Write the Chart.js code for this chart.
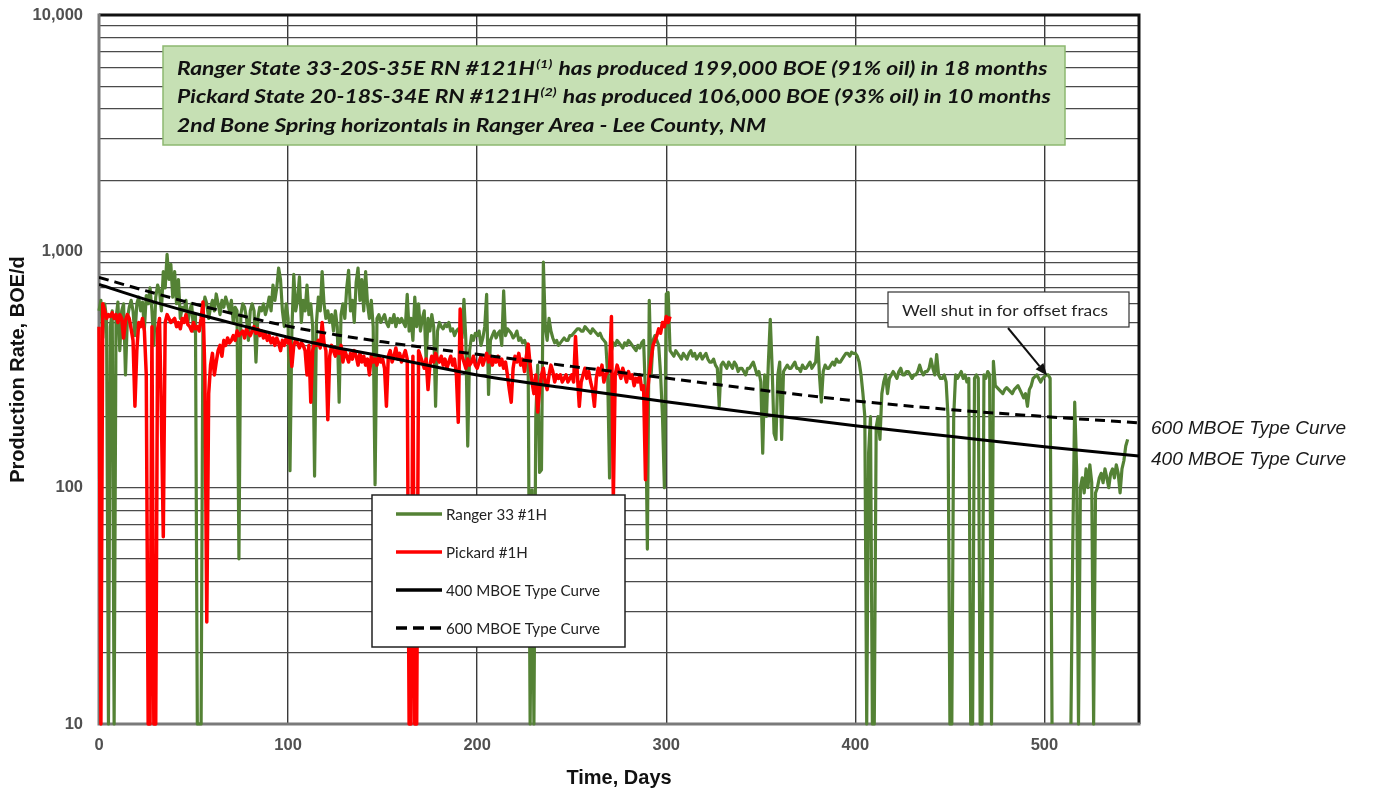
<!DOCTYPE html>
<html>
<head>
<meta charset="utf-8">
<script src="https://cdn.jsdelivr.net/npm/chart.js@4.4.1/dist/chart.umd.min.js"></script>
<style>
  html, body { margin: 0; padding: 0; background: #ffffff; }
  #wrap { width: 1382px; height: 794px; position: relative; }
</style>
</head>
<body>
<div id="wrap"><canvas id="chart" width="1382" height="794"></canvas></div>
<script>
// Daily production, BOE/d; array index = day on production. null = well shut in.
const rangerRate = [
  560,620,430,600,520,10,480,560,10,520,610,380,560,600,300,520,580,620,560,440,
  600,640,560,610,470,650,600,700,560,400,640,720,680,560,820,700,970,760,880,640,
  820,600,760,520,580,560,620,500,560,600,460,540,10,10,10,560,640,600,520,580,
  620,560,660,600,540,620,580,640,600,560,620,500,580,560,50,540,600,580,520,420,
  560,600,560,340,520,580,560,600,540,580,640,560,720,620,700,850,760,560,480,600,
  520,118,460,800,560,620,780,500,620,560,720,540,600,480,112,500,640,560,820,600,
  520,560,500,540,460,560,480,230,540,600,520,700,830,560,620,500,740,850,620,760,
  560,820,600,520,620,480,103,520,540,500,520,540,500,480,520,500,540,480,520,500,
  520,500,480,658,460,520,420,640,480,600,460,520,560,340,520,460,540,480,221,460,
  500,480,470,490,480,500,460,470,440,460,470,450,430,627,420,150,380,440,420,450,
  440,460,400,430,480,658,248,420,440,460,430,450,460,400,680,440,470,460,450,430,
  440,460,420,430,410,420,400,300,10,98,10,200,330,116,119,900,480,420,520,460,
  430,410,420,400,410,420,430,420,420,440,440,450,460,470,470,460,460,480,470,460,
  450,470,460,450,440,450,430,420,410,300,110,380,410,400,420,410,400,390,410,400,
  420,410,400,390,380,400,390,410,420,250,55,620,300,420,440,420,400,300,200,100,
  660,670,380,370,360,380,370,360,350,370,360,350,370,380,360,370,350,360,370,350,
  360,370,350,340,340,350,330,320,221,330,340,330,320,340,330,320,340,330,310,320,
  320,310,300,320,320,330,340,320,300,310,280,140,300,200,340,516,320,170,160,300,
  340,160,310,320,330,320,320,330,340,320,320,310,330,320,320,330,340,320,330,340,
  433,300,230,310,330,320,320,330,340,330,350,340,340,350,360,370,370,360,374,370,
  370,360,340,300,250,200,10,140,200,10,10,180,200,160,250,280,300,250,290,300,
  310,300,290,310,320,300,300,310,310,300,290,300,300,310,330,310,300,310,310,320,
  350,320,300,366,300,290,290,300,280,200,10,10,200,300,290,300,310,290,300,280,
  290,10,10,290,300,290,10,10,300,290,310,300,10,342,270,265,260,255,250,260,
  265,260,255,250,260,265,270,260,250,240,250,221,260,270,290,295,300,290,280,290,
  295,300,300,290,10,null,null,null,null,null,null,null,null,null,10,60,230,120,10,100,
  110,95,120,100,125,105,10,95,100,110,115,105,120,110,100,115,120,110,125,115,
  95,120,130,150,160
];

const pickardRate = [
  480,10,600,560,520,540,530,550,520,540,500,540,520,430,510,540,520,470,420,221,
  380,500,480,520,460,300,10,10,480,10,10,470,520,200,62,500,540,520,500,510,
  520,480,500,470,520,500,540,490,480,460,500,470,480,460,520,610,300,27,250,330,
  370,300,340,380,400,360,420,400,430,410,420,440,420,460,440,450,460,430,470,450,
  440,460,480,450,470,440,460,430,450,420,440,410,430,400,430,410,380,420,400,430,
  410,420,326,400,420,410,390,410,400,380,300,400,230,380,410,400,420,390,500,410,
  380,194,360,400,380,360,390,370,400,340,380,360,340,370,350,380,360,330,370,340,
  360,330,350,300,360,340,350,330,360,340,350,320,221,360,380,340,360,390,350,370,
  340,360,380,350,10,10,360,10,10,380,360,340,320,350,260,330,360,340,370,350,
  340,360,330,350,320,340,360,330,350,300,189,570,360,340,320,350,330,340,360,330,
  320,340,360,330,350,370,340,360,330,350,340,360,330,350,320,340,300,260,230,320,
  360,340,370,330,350,310,360,405,330,280,250,300,209,260,300,320,280,260,300,330,
  310,280,300,290,300,280,290,300,280,290,300,280,436,300,221,280,300,320,290,310,
  280,260,221,290,320,300,330,280,300,310,320,530,89,300,330,310,290,320,300,280,
  310,290,300,270,290,280,300,260,270,108,250,300,350,400,420,440,470,450,500,480,
  530,500,530
];

// Type curves, BOE/d at selected days
const typeCurveDays = [0, 25, 50, 75, 100, 125, 150, 175, 200, 250, 300, 350, 400, 450, 500, 550];
const typeCurve400 = [724, 625, 548, 486, 433, 392, 360, 328, 300, 262, 231, 205, 183, 165, 149, 136];
const typeCurve600 = [776, 680, 600, 535, 482, 444, 414, 389, 367, 326, 291, 259, 233, 214, 200, 188];

// Axis ticks
const xTicks = [0, 100, 200, 300, 400, 500];
const yTicks = [10,20,30,40,50,60,70,80,90,100,200,300,400,500,600,700,800,900,
                1000,2000,3000,4000,5000,6000,7000,8000,9000,10000];
const yLabelled = [10, 100, 1000, 10000];

const seriesNames = ['Ranger 33 #1H', 'Pickard #1H', '400 MBOE Type Curve', '600 MBOE Type Curve'];
const noteLines = [
  ['Ranger State 33-20S-35E RN #121H', '(1)', ' has produced 199,000 BOE (91% oil) in 18 months'],
  ['Pickard State 20-18S-34E RN #121H', '(2)', ' has produced 106,000 BOE (93% oil) in 10 months'],
  ['2nd Bone Spring horizontals in Ranger Area - Lee County, NM', '', '']
];
const calloutText = 'Well shut in for offset fracs';
const shutInDay = 503;

const GREEN = '#548235';
const RED = '#ff0000';

const toXY = (arr) => arr.map((v, i) => ({ x: i, y: v }));
const curveXY = (vals) => typeCurveDays.map((d, i) => ({ x: d, y: vals[i] }));

// Plot frame: grey left/bottom axes, black top/right borders
const framePlugin = {
  id: 'frame',
  beforeDatasetsDraw(chart) {
    const { ctx, chartArea: a } = chart;
    ctx.save();
    ctx.lineWidth = 3;
    ctx.strokeStyle = '#111';
    ctx.beginPath();
    ctx.moveTo(a.left, a.top); ctx.lineTo(a.right, a.top); ctx.lineTo(a.right, a.bottom);
    ctx.stroke();
    ctx.strokeStyle = '#7a7a7a';
    ctx.beginPath();
    ctx.moveTo(a.left, a.top - 1.5); ctx.lineTo(a.left, a.bottom); ctx.lineTo(a.right + 1.5, a.bottom);
    ctx.stroke();
    ctx.restore();
  }
};

function drawArrow(ctx, x1, y1, x2, y2) {
  const ang = Math.atan2(y2 - y1, x2 - x1);
  const len = 12, hw = 5;
  const bx = x2 - len * Math.cos(ang), by = y2 - len * Math.sin(ang);
  ctx.beginPath();
  ctx.moveTo(x1, y1); ctx.lineTo(bx, by);
  ctx.stroke();
  ctx.beginPath();
  ctx.moveTo(x2, y2);
  ctx.lineTo(bx + hw * Math.sin(ang), by - hw * Math.cos(ang));
  ctx.lineTo(bx - hw * Math.sin(ang), by + hw * Math.cos(ang));
  ctx.closePath();
  ctx.fill();
}

const overlayPlugin = {
  id: 'overlays',
  afterDatasetsDraw(chart) {
    const { ctx } = chart;
    const xs = chart.scales.x, ys = chart.scales.y;
    ctx.save();

    // Note box at the top
    ctx.fillStyle = '#c6e0b4';
    ctx.strokeStyle = '#8db870';
    ctx.lineWidth = 1.5;
    ctx.fillRect(163, 46, 902, 99);
    ctx.strokeRect(163, 46, 902, 99);
    const mainFont = 'italic bold 19px Lato, "Open Sans", sans-serif';
    const supFont = 'italic bold 12px Lato, "Open Sans", sans-serif';
    const widthOf = (line) => {
      ctx.font = mainFont;
      let w = ctx.measureText(line[0]).width + ctx.measureText(line[2]).width;
      ctx.font = supFont;
      return w + ctx.measureText(line[1]).width;
    };
    const sx = 868 / widthOf(noteLines[0]);
    ctx.fillStyle = '#111';
    ctx.textBaseline = 'alphabetic';
    ctx.textAlign = 'left';
    noteLines.forEach((line, i) => {
      ctx.save();
      ctx.translate(177, 75 + i * 28.3);
      ctx.scale(sx, 1);
      let x = 0;
      ctx.font = mainFont;
      ctx.fillText(line[0], x, 0);
      x += ctx.measureText(line[0]).width + 1;
      ctx.font = supFont;
      if (line[1]) {
        ctx.fillText(line[1], x, -7);
        x += ctx.measureText(line[1]).width + 1;
      }
      ctx.font = mainFont;
      ctx.fillText(line[2], x, 0);
      ctx.restore();
    });

    // Legend box
    ctx.fillStyle = '#ffffff';
    ctx.strokeStyle = '#222';
    ctx.lineWidth = 1.5;
    ctx.fillRect(372, 495, 253, 152);
    ctx.strokeRect(372, 495, 253, 152);
    const legFont = '15px Lato, "Open Sans", sans-serif';
    ctx.font = legFont;
    const lsx = 154 / ctx.measureText(seriesNames[2]).width;
    const order = [0, 1, 2, 3];
    order.forEach((di, r) => {
      const ds = chart.data.datasets[di];
      const y = 514 + r * 38;
      ctx.save();
      ctx.strokeStyle = ds.borderColor;
      ctx.lineWidth = 3.5;
      ctx.setLineDash(ds.borderDash && ds.borderDash.length ? [11, 6] : []);
      ctx.beginPath();
      ctx.moveTo(396, y); ctx.lineTo(442, y);
      ctx.stroke();
      ctx.restore();
      ctx.save();
      ctx.translate(446, y);
      ctx.scale(lsx, 1);
      ctx.font = legFont;
      ctx.fillStyle = '#222';
      ctx.textBaseline = 'middle';
      ctx.fillText(ds.label, 0, 1);
      ctx.restore();
    });

    // Shut-in callout
    ctx.fillStyle = '#ffffff';
    ctx.strokeStyle = '#333';
    ctx.lineWidth = 1.2;
    ctx.fillRect(888, 292, 241, 35);
    ctx.strokeRect(888, 292, 241, 35);
    const cFont = '16px Lato, "Open Sans", sans-serif';
    ctx.font = cFont;
    const csx = 206 / ctx.measureText(calloutText).width;
    ctx.save();
    ctx.translate(902, 311);
    ctx.scale(csx, 1);
    ctx.fillStyle = '#222';
    ctx.textBaseline = 'middle';
    ctx.fillText(calloutText, 0, 0);
    ctx.restore();
    const tipX = xs.getPixelForValue(shutInDay) - 3;
    const tipY = ys.getPixelForValue(rangerRate[shutInDay]) - 3;
    ctx.strokeStyle = '#111';
    ctx.fillStyle = '#111';
    ctx.lineWidth = 2;
    drawArrow(ctx, 1008, 328, tipX, tipY);

    // Type-curve end labels
    ctx.font = 'italic 19px "Liberation Sans", Arial, sans-serif';
    ctx.fillStyle = '#1a1a1a';
    ctx.textBaseline = 'middle';
    const yEnd600 = ys.getPixelForValue(typeCurve600[typeCurve600.length - 1]);
    const yEnd400 = ys.getPixelForValue(typeCurve400[typeCurve400.length - 1]);
    ctx.fillText(seriesNames[3], 1151, yEnd600 + 6);
    ctx.fillText(seriesNames[2], 1151, yEnd400 + 4);

    ctx.restore();
  }
};

new Chart(document.getElementById('chart'), {
  type: 'line',
  data: {
    datasets: [
      { label: seriesNames[0], data: toXY(rangerRate), borderColor: GREEN, borderWidth: 3.2,
        pointRadius: 0, tension: 0, order: 4, clip: false, spanGaps: false, borderJoinStyle: 'round' },
      { label: seriesNames[1], data: toXY(pickardRate), borderColor: RED, borderWidth: 3.5,
        pointRadius: 0, tension: 0, order: 3, clip: false, borderJoinStyle: 'round' },
      { label: seriesNames[2], data: curveXY(typeCurve400), borderColor: '#000', borderWidth: 3,
        pointRadius: 0, cubicInterpolationMode: 'monotone', order: 2 },
      { label: seriesNames[3], data: curveXY(typeCurve600), borderColor: '#000', borderWidth: 3,
        borderDash: [10, 6], pointRadius: 0, cubicInterpolationMode: 'monotone', order: 1 }
    ]
  },
  options: {
    responsive: false,
    animation: false,
    devicePixelRatio: 1,
    layout: { autoPadding: false, padding: { top: 15, right: 243, bottom: 0, left: 0 } },
    plugins: { legend: { display: false }, title: { display: false }, tooltip: { enabled: false } },
    scales: {
      x: {
        type: 'linear', min: 0, max: 550,
        afterBuildTicks: (s) => { s.ticks = xTicks.map(v => ({ value: v })); },
        afterFit: (s) => { s.height = 70; },
        grid: { color: '#3a3a3a', lineWidth: 1.4, drawTicks: false },
        border: { display: false },
        ticks: { autoSkip: false, maxRotation: 0, padding: 12, color: '#505050',
                 font: { family: '"Liberation Sans", Arial, sans-serif', size: 16.5, weight: 'bold' } },
        title: { display: true, text: 'Time, Days', color: '#111',
                 font: { family: '"Liberation Sans", Arial, sans-serif', size: 20, weight: 'bold' },
                 padding: { top: 0, bottom: 4 } }
      },
      y: {
        type: 'logarithmic', min: 10, max: 10000,
        afterBuildTicks: (s) => { s.ticks = yTicks.map(v => ({ value: v })); },
        afterFit: (s) => { s.width = 99; s.paddingTop = 0; s.paddingBottom = 0; },
        grid: { color: '#4a4a4a', lineWidth: 1.2, drawTicks: false },
        border: { display: false },
        ticks: { autoSkip: false, padding: 16, color: '#505050',
                 callback: (v) => yLabelled.includes(v) ? v.toLocaleString('en-US') : '',
                 font: { family: '"Liberation Sans", Arial, sans-serif', size: 16.5, weight: 'bold' } },
        title: { display: true, text: 'Production Rate, BOE/d', color: '#111',
                 font: { family: '"Liberation Sans", Arial, sans-serif', size: 20, weight: 'bold' },
                 padding: { top: 6, bottom: 0 } }
      }
    }
  },
  plugins: [framePlugin, overlayPlugin]
});
</script>
</body>
</html>
